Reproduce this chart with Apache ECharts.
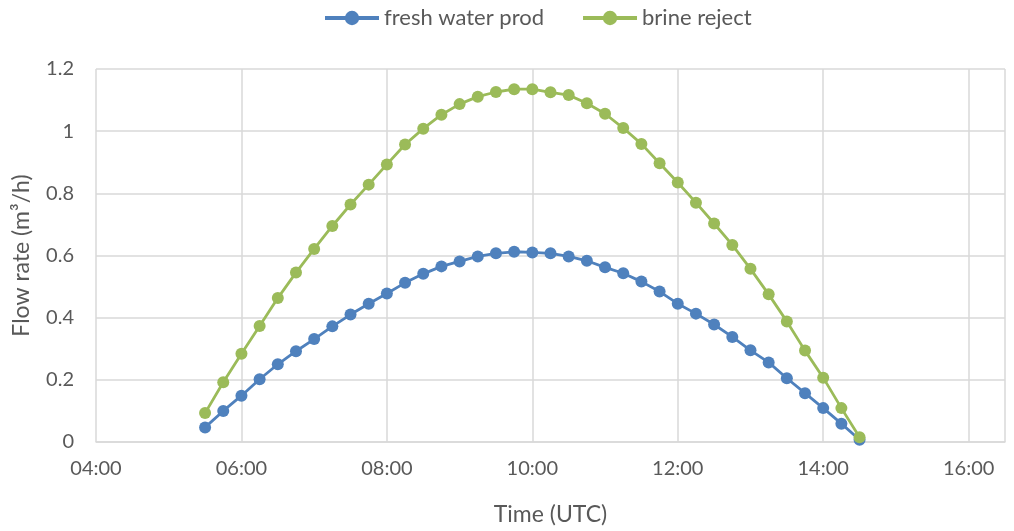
<!DOCTYPE html>
<html>
<head>
<meta charset="utf-8">
<script src="https://cdn.jsdelivr.net/npm/echarts@6/dist/echarts.min.js"></script>
<style>
  html, body { margin: 0; padding: 0; background: #fff; }
  #chart { width: 1014px; height: 531px; }
</style>
</head>
<body>
<div id="chart"></div>
<script>
// Sample times (UTC), every 15 minutes
const times = [
  "05:30","05:45","06:00","06:15","06:30","06:45","07:00","07:15","07:30","07:45",
  "08:00","08:15","08:30","08:45","09:00","09:15","09:30","09:45","10:00","10:15",
  "10:30","10:45","11:00","11:15","11:30","11:45","12:00","12:15","12:30","12:45",
  "13:00","13:15","13:30","13:45","14:00","14:15","14:30"
];
// Flow rates in m3/h
const freshWater = [
  0.047,0.100,0.149,0.202,0.250,0.292,0.331,0.372,0.410,0.445,
  0.478,0.512,0.541,0.565,0.581,0.597,0.607,0.612,0.610,0.607,
  0.597,0.583,0.562,0.543,0.516,0.484,0.445,0.413,0.378,0.338,
  0.295,0.256,0.205,0.157,0.109,0.059,0.007
];
const brineReject = [
  0.093,0.192,0.284,0.373,0.463,0.545,0.621,0.695,0.764,0.828,
  0.893,0.957,1.008,1.053,1.087,1.111,1.126,1.135,1.135,1.125,
  1.116,1.090,1.056,1.010,0.959,0.897,0.835,0.770,0.703,0.634,
  0.557,0.475,0.388,0.294,0.207,0.109,0.015
];
const seriesNames = ["fresh water prod", "brine reject"];
const xAxisTitle = "Time (UTC)";
const yAxisTitle = "Flow rate (m³/h)";

function toHours(t) {
  const [h, m] = t.split(":").map(Number);
  return h + m / 60;
}
function fmtHour(v) {
  const h = Math.floor(v), m = Math.round((v - h) * 60);
  return String(h).padStart(2, "0") + ":" + String(m).padStart(2, "0");
}
const pairs = arr => times.map((t, i) => [toHours(t), arr[i]]);

const FONT = "Lato";
const TEXT = "#595959";
const GRID = "#d9d9d9";

const chart = echarts.init(document.getElementById("chart"));
chart.setOption({
  animation: false,
  textStyle: { fontFamily: FONT },
  legend: {
    top: 2,
    left: 318,
    itemWidth: 54,
    itemHeight: 18,
    itemGap: 37,
    lineStyle: { width: 4 },
    textStyle: { fontFamily: FONT, fontSize: 22, color: TEXT },
    data: seriesNames
  },
  grid: { left: 96, right: 9, top: 69, bottom: 87, containLabel: false },
  xAxis: {
    type: "value",
    min: 4, max: 16.5, interval: 2,
    name: xAxisTitle,
    nameLocation: "middle",
    nameGap: 61,
    nameTextStyle: { fontFamily: FONT, fontSize: 23, color: TEXT },
    axisLine: { show: true, lineStyle: { color: GRID, width: 1.5 } },
    axisTick: { show: false },
    axisLabel: { color: TEXT, fontSize: 20, margin: 17, formatter: fmtHour },
    splitLine: { show: true, lineStyle: { color: GRID, width: 1.5 } }
  },
  yAxis: {
    type: "value",
    min: 0, max: 1.2, interval: 0.2,
    name: yAxisTitle,
    nameLocation: "middle",
    nameGap: 63,
    nameTextStyle: { fontFamily: FONT, fontSize: 23, color: TEXT },
    axisLine: { show: false },
    axisTick: { show: false },
    axisLabel: {
      color: TEXT, fontSize: 20, margin: 22,
      formatter: v => String(Math.round(v * 10) / 10)
    },
    splitLine: { show: true, lineStyle: { color: GRID, width: 1.5 } }
  },
  series: [
    {
      name: seriesNames[0],
      type: "line",
      data: pairs(freshWater),
      symbol: "circle",
      symbolSize: 12,
      color: "#4f81bd",
      lineStyle: { width: 2.8 },
      z: 2
    },
    {
      name: seriesNames[1],
      type: "line",
      data: pairs(brineReject),
      symbol: "circle",
      symbolSize: 12,
      color: "#9bbb59",
      lineStyle: { width: 2.8 },
      z: 3
    }
  ]
});
</script>
</body>
</html>
